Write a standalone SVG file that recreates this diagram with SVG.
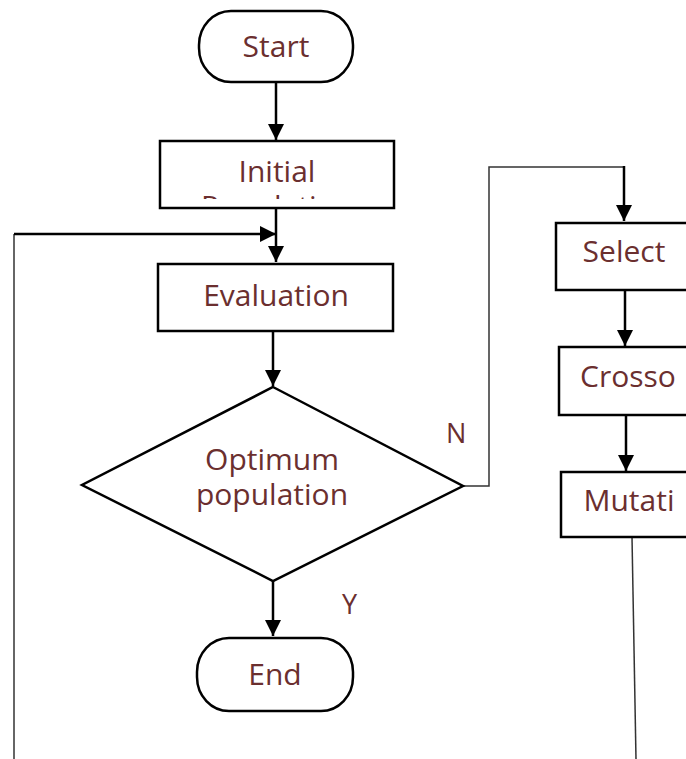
<svg xmlns="http://www.w3.org/2000/svg" width="686" height="759" viewBox="0 0 686 759">
<style>
.box{fill:#fff;stroke:#000;stroke-width:2.5}
.lbl{font-family:"Open Sans","DejaVu Sans",sans-serif;font-size:30px;fill:#6b2f2f;text-anchor:middle}
.yn{font-family:"Open Sans","DejaVu Sans",sans-serif;font-size:27px;fill:#6b2f2f}
.ln{fill:none;stroke:#000;stroke-width:2.5}
.thin{fill:none;stroke:#333;stroke-width:1.5}
</style>
<defs>
<marker id="ah" markerUnits="userSpaceOnUse" markerWidth="16" markerHeight="18" refX="16" refY="8" orient="auto">
<path d="M0,0 L16,8 L0,16 Z" fill="#000"/>
</marker>
<clipPath id="cInit"><rect x="161" y="193" width="232" height="6"/></clipPath>
</defs>
<g id="connectors">
<line class="ln" x1="276" y1="82" x2="276" y2="140" marker-end="url(#ah)"/>
<line class="ln" x1="276" y1="208" x2="276" y2="262" marker-end="url(#ah)"/>
<polyline class="thin" points="14,759 14,234"/>
<line class="ln" x1="14" y1="234" x2="276" y2="234" marker-end="url(#ah)"/>
<line class="ln" x1="273" y1="331" x2="273" y2="386" marker-end="url(#ah)"/>
<line class="ln" x1="273" y1="581" x2="273" y2="636" marker-end="url(#ah)"/>
<polyline class="thin" points="463,486 489,486 489,167 624,167"/>
<line class="ln" x1="624" y1="166" x2="624" y2="221" marker-end="url(#ah)"/>
<line class="ln" x1="625" y1="290" x2="625" y2="346" marker-end="url(#ah)"/>
<line class="ln" x1="626" y1="415" x2="626" y2="471" marker-end="url(#ah)"/>
<line class="thin" x1="632" y1="537" x2="636" y2="759"/>
<text class="yn" x="446" y="443">N</text>
<text class="yn" x="342" y="614">Y</text>
</g>
<g id="start">
<rect class="box" x="199" y="11" width="154" height="71" rx="32" ry="34"/>
<text class="lbl" x="276" y="57">Start</text>
</g>
<g id="initial">
<rect class="box" x="160" y="141" width="234" height="67"/>
<text class="lbl" x="277" y="182">Initial</text>
<text class="lbl" x="277" y="217" clip-path="url(#cInit)">Population</text>
</g>
<g id="evaluation">
<rect class="box" x="158" y="264" width="235" height="67"/>
<text class="lbl" x="276" y="306">Evaluation</text>
</g>
<g id="decision">
<polygon class="box" points="273,387 463,486 273,581 82,485"/>
<text class="lbl" x="272" y="470">Optimum</text>
<text class="lbl" x="272" y="505">population</text>
</g>
<g id="end">
<rect class="box" x="197" y="638" width="156" height="73" rx="32" ry="34"/>
<text class="lbl" x="275" y="685">End</text>
</g>
<g id="select">
<rect class="box" x="556" y="223" width="145" height="67"/>
<text class="lbl" x="624" y="262">Select</text>
</g>
<g id="crossover">
<rect class="box" x="559" y="347" width="145" height="68"/>
<text class="lbl" x="628" y="387">Crosso</text>
</g>
<g id="mutation">
<rect class="box" x="561" y="472" width="145" height="65"/>
<text class="lbl" x="629" y="511">Mutati</text>
</g>
</svg>
